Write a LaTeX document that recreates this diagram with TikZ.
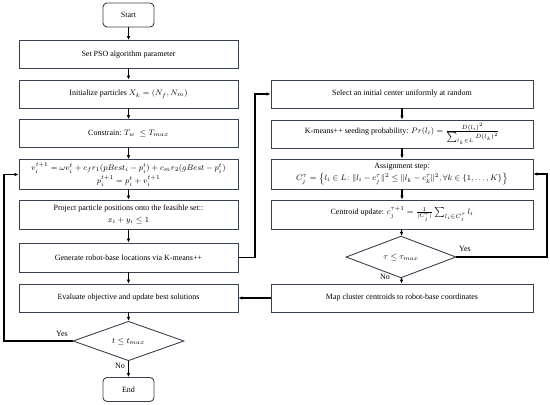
\documentclass[tikz,border=0pt]{standalone}
\usepackage{fontspec}
\setmainfont{Liberation Serif}
\usetikzlibrary{shapes.geometric,arrows.meta}
\definecolor{bordc}{RGB}{55,66,78}
\tikzset{
  box/.style={draw=bordc, line width=0.9pt, fill=white, inner sep=1pt, align=center, font=\fontsize{8}{10.5}\selectfont},
  lbox/.style={box, minimum width=219pt, minimum height=28pt},
  rbox/.style={box, minimum width=262pt, minimum height=28pt},
  term/.style={box, rounded corners=4pt, minimum width=51pt, minimum height=24pt},
  dec/.style={draw=bordc, line width=0.9pt, diamond, inner sep=0pt, font=\fontsize{8}{10}\selectfont},
  arr/.style={line width=1.1pt, -{Latex[length=4pt,width=3.6pt]}},
  lab/.style={font=\fontsize{8}{10}\selectfont}
}
\begin{document}
\begin{tikzpicture}[x=1pt,y=-1pt]
\useasboundingbox (0,0) rectangle (550,405);
% left column
\node[term] (start) at (128.5,15) {Start};
\node[lbox] (pso) at (128.5,54.5) {Set PSO algorithm parameter};
\node[lbox] (init) at (128.5,94) {Initialize particles $X_k = (N_f, N_m)$};
\node[lbox] (con) at (128.5,133.5) {Constrain: $T_w \ \le T_{max}$};
\node[lbox, minimum height=30pt] (vel) at (128.5,174.5) {$v_i^{t+1} = \omega v_i^t + c_f r_1(pBest_i - p_i^t) + c_m r_2(gBest - p_i^t)$\\[2.5pt] $p_i^{t+1} = p_i^t + v_i^{t+1}$};
\node[lbox, minimum height=29pt] (proj) at (128.5,214.5) {Project particle positions onto the feasible set::\\[1pt] $x_i + y_i \le 1$};
\node[lbox, minimum height=29pt] (gen) at (128.5,257.5) {Generate robot-base locations via K-means++};
\node[lbox] (eval) at (128.5,298) {Evaluate objective and update best solutions};
\node[dec, minimum width=111pt, minimum height=34pt] (d1) at (128.5,341) {$t \le t_{max}$};
\node[term] (end) at (128.5,389.5) {End};
% right column
\node[rbox] (sel) at (402,94) {Select an initial center uniformly at random};
\node[rbox] (kpp) at (402,134) {K-means++ seeding probability: $Pr(l_i) = \frac{D(l_i)^2}{\sum_{l_k\in L} D(l_k)^2}$};
\node[rbox, minimum height=30pt] (asg) at (402,174) {Assignment step:\\[1.5pt] $C_j^\tau = \bigl\{ l_i \in L\!: \| l_i - c_j^\tau \|^2 \le \| l_k - c_k^\tau \|^2, \forall k \in \{1,\ldots,K\} \bigr\}$};
\node[rbox, minimum height=29pt] (cen) at (402,214.5) {Centroid update: $c_j^{\tau+1} = \frac{1}{|C_j^\tau|}\sum_{l_i\in C_j^\tau} l_i$};
\node[dec, minimum width=110pt, minimum height=33pt] (d2) at (401,257) {$\tau \le \tau_{max}$};
\node[rbox] (map) at (402,298) {Map cluster centroids to robot-base coordinates};
% coordinates
\coordinate (lloop) at (4,341);
\coordinate (mid) at (255,257.5);
\coordinate (rloop) at (547,257);
% left arrows
\draw[arr] (start) -- (pso);
\draw[arr] (pso) -- (init);
\draw[arr] (init) -- (con);
\draw[arr] (con) -- (vel);
\draw[arr] (vel) -- (proj);
\draw[arr] (proj) -- (gen);
\draw[arr] (gen) -- (eval);
\draw[arr] (eval) -- (d1);
\draw[arr] (d1) -- (end);
\draw[arr] (d1.west) -- (lloop) |- (vel.west);
% cross
\draw[arr] (gen.east) -- (mid) |- (sel.west);
% right arrows
\draw[arr] (sel) -- (kpp);
\draw[arr] (kpp) -- (asg);
\draw[arr] (asg) -- (cen);
\draw[arr] (cen) -- (d2);
\draw[arr] (d2) -- (map);
\draw[arr] (d2.east) -- (rloop) |- (asg.east);
\draw[arr] (map.west) -- (eval.east);
% labels
\node[lab] (y1) at (62,334) {Yes};
\node[lab] (n1) at (120,366) {No};
\node[lab] (y2) at (465,249) {Yes};
\node[lab] (n2) at (385,277) {No};
\end{tikzpicture}
\end{document}
